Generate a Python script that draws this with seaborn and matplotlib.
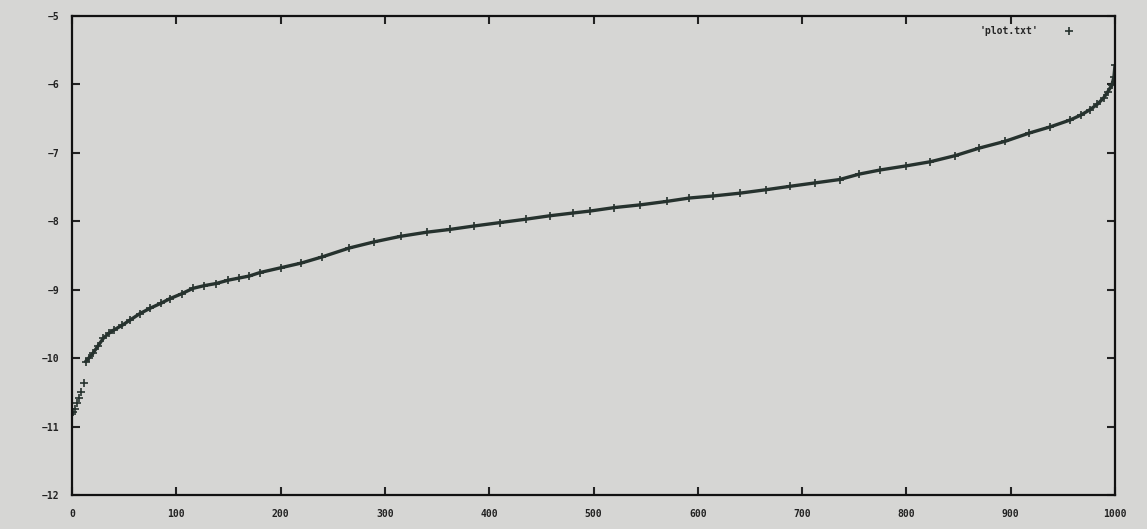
import matplotlib
matplotlib.use("Agg")
import matplotlib.pyplot as plt
import seaborn as sns
import pandas as pd

# values (sorted sample, index vs value)
idx = [0, 1, 3, 5, 7, 9, 11, 13, 16, 20, 25, 30, 35, 40, 48, 56, 65, 75,
       85, 94, 105, 116, 127, 138, 150, 160, 170, 180, 200, 220, 240, 266,
       290, 315, 340, 362, 385, 410, 435, 458, 480, 497, 520, 545, 570,
       592, 615, 640, 665, 688, 712, 736, 755, 775, 800, 823, 847, 870,
       895, 918, 938, 957, 967, 976, 983, 989, 993, 997, 999, 1000]
vals = [-10.82, -10.78, -10.74, -10.66, -10.58, -10.49, -10.36, -10.05,
        -10.00, -9.93, -9.82, -9.71, -9.64, -9.59, -9.52, -9.44, -9.35,
        -9.27, -9.20, -9.13, -9.06, -8.98, -8.94, -8.91, -8.86, -8.83,
        -8.80, -8.75, -8.68, -8.61, -8.52, -8.39, -8.30, -8.22, -8.16,
        -8.12, -8.07, -8.02, -7.97, -7.92, -7.88, -7.85, -7.80, -7.76,
        -7.71, -7.66, -7.63, -7.59, -7.54, -7.49, -7.44, -7.39, -7.31,
        -7.25, -7.19, -7.13, -7.04, -6.93, -6.83, -6.71, -6.62, -6.52,
        -6.45, -6.37, -6.29, -6.20, -6.11, -6.01, -5.89, -5.72]
xticks = [0, 100, 200, 300, 400, 500, 600, 700, 800, 900, 1000]
yticks = [-12, -11, -10, -9, -8, -7, -6, -5]

df = pd.DataFrame({"i": idx, "v": vals})

sns.set_theme(style="ticks")
plt.rcParams["font.family"] = ["DejaVu Sans Mono", "DejaVu Sans"]

bg = "#d6d6d4"
curve = "#26322e"

fig = plt.figure(figsize=(11.47, 5.29), dpi=100, facecolor=bg)
ax = fig.add_axes([0.0628, 0.0643, 0.9093, 0.9055])
ax.set_facecolor(bg)

# the dense band of points, then the '+' marks on top
sns.lineplot(data=df[df["i"] >= 13], x="i", y="v", ax=ax, color=curve,
             linewidth=2.4, sort=False, legend=False)
sns.scatterplot(data=df, x="i", y="v", ax=ax, marker="+", s=30,
                color=curve, linewidth=1.2, label="'plot.txt'")

ax.set_xlim(0, 1000)
ax.set_ylim(-12, -5)
ax.set_xticks(xticks)
ax.set_yticks(yticks)
ax.set_xlabel("")
ax.set_ylabel("")
ax.tick_params(direction="in", length=6, width=1.5, top=True, right=True,
               labelsize=7, colors="#222222")
ax.tick_params(axis="x", pad=10)
ax.tick_params(axis="y", pad=9)
for lab in ax.get_xticklabels() + ax.get_yticklabels():
    lab.set_fontweight("bold")
for sp in ax.spines.values():
    sp.set_visible(True)
    sp.set_linewidth(1.6)
    sp.set_color("#111111")

leg = ax.legend(loc="upper right", bbox_to_anchor=(0.975, 1.0),
                markerfirst=False, frameon=False, fontsize=7,
                handletextpad=2.2, borderaxespad=0.6)
for t in leg.get_texts():
    t.set_fontweight("bold")

fig.savefig("out.png", dpi=100, facecolor=bg)
